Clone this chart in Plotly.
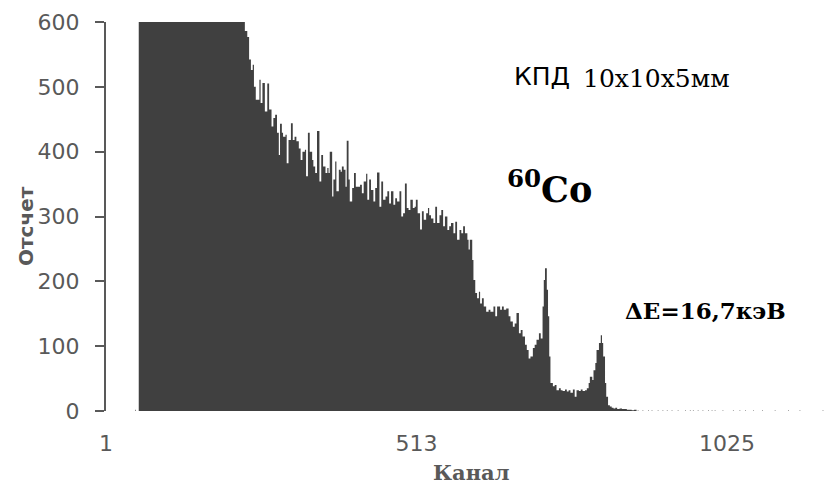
import plotly.graph_objects as go

# Gamma spectrum of 60Co measured with a 10x10x5 mm detector.
# Each channel holds its count until the next listed channel (step histogram).
channels = [
    49, 50, 55, 70, 90, 110, 130, 150, 170, 190, 205, 218, 226,
    230, 234, 237, 240, 243, 245, 248, 254, 256, 259, 263, 267, 270, 274, 277, 280,
    283, 286, 288, 291, 293, 297, 299, 302, 306, 309, 312, 315, 319, 322, 325, 329,
    331, 334, 337, 341, 343, 346, 349, 353, 356, 359, 363, 366, 368, 370, 374, 376,
    379, 381, 385, 388, 390, 393, 396, 398, 401, 403, 407, 410, 413, 417, 420, 423,
    426, 430, 432, 435, 438, 442, 445, 448, 452, 455, 458, 462, 465, 468, 471, 475,
    478, 481, 485, 488, 491, 494, 497, 500, 503, 507, 510, 512, 515, 519, 522, 525,
    529, 532, 534, 537, 541, 544, 547, 551, 554, 557, 560, 564, 567, 570, 574, 577,
    580, 584, 587, 590, 593, 597, 599, 601, 605, 607, 610, 613, 616, 618, 621, 624,
    628, 632, 635, 640, 643, 646, 651, 654, 657, 661, 665, 668, 672, 675, 678, 682,
    685, 688, 692, 695, 698, 701, 705, 708, 711, 715, 718, 721, 723, 725, 728, 730,
    732, 734, 738, 741, 744, 748, 751, 754, 758, 761, 764, 767, 771, 774, 777, 781,
    784, 787, 791, 794, 797, 799, 803, 805, 808, 810, 814, 817, 819, 821, 824, 826,
    829, 832, 835, 838, 841, 844, 848, 852, 856, 860, 864, 868, 872, 876,
    878, 879, 886, 887, 895, 896, 901, 902, 911, 912, 919, 920, 926, 927, 934, 935,
    944, 945, 956, 957, 964, 965, 969, 970, 977, 978, 985, 986, 994, 995, 1000, 1001,
    1005, 1006, 1018, 1019, 1035, 1036, 1046, 1047, 1055, 1056, 1068, 1069, 1083, 1084,
    1104, 1105, 1126, 1127, 1145, 1146, 1183, 1184,
]
counts = [
    2, 0, 1650, 1480, 1330, 1190, 1060, 950, 860, 780, 710, 650, 612,
    586, 577, 542, 526, 534, 500, 480, 511, 475, 506, 462, 505, 465, 439, 452, 457,
    429, 395, 443, 429, 423, 426, 382, 418, 444, 418, 423, 416, 405, 387, 400, 403,
    362, 429, 400, 387, 377, 367, 432, 354, 395, 377, 367, 375, 367, 400, 331, 357,
    385, 339, 372, 369, 377, 372, 346, 417, 357, 323, 344, 367, 346, 346, 349, 336,
    354, 366, 326, 357, 341, 323, 344, 368, 315, 354, 326, 331, 339, 320, 339, 318,
    328, 323, 339, 300, 305, 351, 313, 310, 326, 313, 315, 326, 305, 280, 308, 295,
    305, 313, 302, 297, 290, 315, 290, 302, 310, 285, 300, 279, 285, 290, 274, 292,
    264, 279, 274, 285, 274, 264, 249, 264, 233, 202, 182, 174, 184, 166, 174, 161,
    153, 156, 153, 161, 146, 161, 156, 161, 156, 158, 146, 138, 130, 135, 151, 120,
    125, 115, 102, 94, 81, 84, 97, 102, 110, 120, 112, 161, 202, 220, 187, 146,
    84, 43, 38, 40, 32, 35, 32, 31, 33, 30, 32, 28, 33, 22, 32, 31,
    33, 31, 32, 35, 43, 53, 48, 63, 74, 94, 105, 117, 105, 84, 43, 22,
    9, 7, 5, 4, 5, 3, 4, 3, 3, 2, 2, 1, 2, 0,
    1, 0, 1, 0, 1, 0, 1, 0, 1, 0, 1, 0, 1, 0, 1, 0,
    1, 0, 1, 0, 1, 0, 1, 0, 1, 0, 1, 0, 1, 0, 1, 0,
    1, 0, 1, 0, 1, 0, 1, 0, 1, 0, 1, 0, 1, 0,
    1, 0, 1, 0, 1, 0, 1, 0,
]

x_ticks = [1, 513, 1025]
x_tick_text = ["1", "513", "1025"]
y_ticks = [0, 100, 200, 300, 400, 500, 600]

W, H = 839, 486
L, R, T, B = 106, 6, 22, 75
PW, PH = W - L - R, H - T - B

AXIS = "#595959"
BAR = "#404040"
SANS = "DejaVu Sans"
SERIF = "DejaVu Serif"


def px(x):
    return (x - L) / PW


def py(y):
    return (H - B - y) / PH


fig = go.Figure()
fig.add_trace(go.Scatter(
    x=channels, y=counts, mode="lines",
    line=dict(shape="hv", width=0, color=BAR),
    fill="tozeroy", fillcolor=BAR,
    hoverinfo="skip", showlegend=False,
))

fig.update_layout(
    width=W, height=H,
    margin=dict(l=L, r=R, t=T, b=B, pad=0),
    paper_bgcolor="white", plot_bgcolor="white",
    xaxis=dict(
        range=[1, 1200], tickvals=x_ticks, ticktext=x_tick_text,
        showline=False, showgrid=False, zeroline=False, ticks="",
        ticklabelstandoff=17,
        tickfont=dict(family=SANS, size=22, color=AXIS),
    ),
    yaxis=dict(
        range=[0, 600], tickvals=y_ticks,
        showline=True, linecolor=AXIS, linewidth=2,
        ticks="outside", ticklen=9, tickwidth=2, tickcolor=AXIS,
        showgrid=False, zeroline=False,
        ticklabelstandoff=11,
        tickfont=dict(family=SANS, size=22, color=AXIS),
    ),
)

notes = [
    dict(text="КПД", x=px(512), y=py(77), xanchor="left",
         font=dict(family=SANS, size=25, color="black")),
    dict(text="10x10x5мм", x=px(581), y=py(78), xanchor="left",
         font=dict(family=SERIF, size=25, color="black")),
    dict(text="<b><sup>60</sup>Co</b>", x=px(505), y=py(187), xanchor="left",
         font=dict(family=SERIF, size=35, color="black")),
    dict(text="<b>ΔE=16,7кэВ</b>", x=px(623), y=py(310), xanchor="left",
         font=dict(family=SERIF, size=23, color="black")),
    dict(text="<b>Отсчет</b>", x=px(26), y=py(226), textangle=-90,
         font=dict(family=SANS, size=20, color=AXIS)),
    dict(text="<b>Канал</b>", x=px(471), y=py(472),
         font=dict(family=SERIF, size=21, color=AXIS)),
]
for n in notes:
    n.update(xref="paper", yref="paper", showarrow=False, yanchor="middle")
    n.setdefault("xanchor", "center")
    fig.add_annotation(**n)

fig.write_html("out.html")
